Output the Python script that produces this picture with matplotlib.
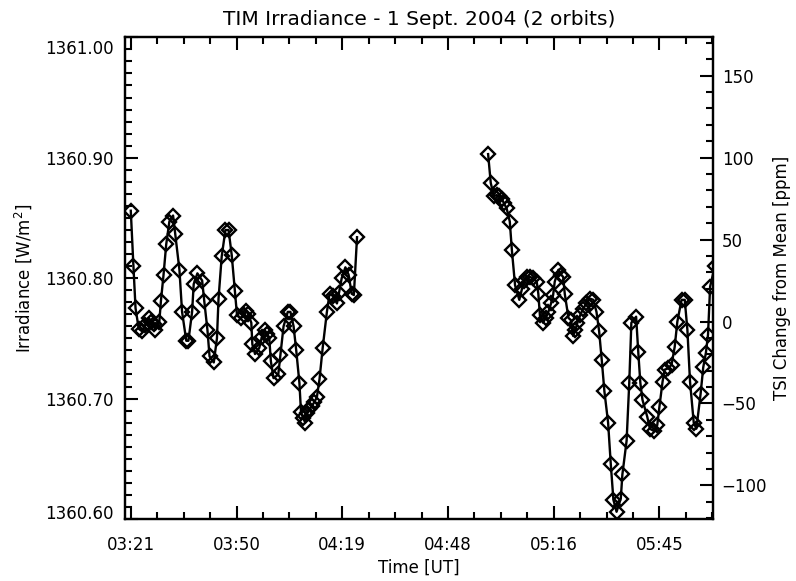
import numpy as np
import matplotlib
matplotlib.use("Agg")
import matplotlib.pyplot as plt
import matplotlib.transforms as mtransforms
from matplotlib.ticker import MultipleLocator, FuncFormatter, FormatStrFormatter

# time in fraction of day (UT), irradiance in W/m^2
t_orbit1 = [0.1400, 0.1405, 0.1409, 0.1415, 0.1421, 0.1427, 0.1434, 0.1439, 0.1443, 0.1446,
            0.1454, 0.1457, 0.1462, 0.1467, 0.1473, 0.1480, 0.1484, 0.1492, 0.1497, 0.1505,
            0.1509, 0.1516, 0.1519, 0.1526, 0.1535, 0.1539, 0.1545, 0.1549, 0.1557, 0.1563,
            0.1566, 0.1572, 0.1579, 0.1585, 0.1591, 0.1597, 0.1601, 0.1608, 0.1614, 0.1618,
            0.1622, 0.1628, 0.1630, 0.1635, 0.1643, 0.1648, 0.1653, 0.1658, 0.1662, 0.1665,
            0.1670, 0.1679, 0.1683, 0.1689, 0.1697, 0.1702, 0.1708, 0.1713, 0.1719, 0.1722,
            0.1726, 0.1730, 0.1734, 0.1738, 0.1743, 0.1747, 0.1752, 0.1757, 0.1763, 0.1771,
            0.1776, 0.1783, 0.1790, 0.1794, 0.1799, 0.1806, 0.1812, 0.1818, 0.1822, 0.1828]
irr_orbit1 = [1360.856, 1360.810, 1360.775, 1360.758, 1360.756, 1360.761, 1360.767, 1360.764, 1360.762, 1360.757,
              1360.764, 1360.781, 1360.803, 1360.828, 1360.847, 1360.852, 1360.837, 1360.807, 1360.772, 1360.748,
              1360.748, 1360.772, 1360.795, 1360.804, 1360.798, 1360.781, 1360.757, 1360.735, 1360.730, 1360.750,
              1360.783, 1360.818, 1360.840, 1360.840, 1360.819, 1360.789, 1360.769, 1360.767, 1360.769, 1360.773,
              1360.770, 1360.763, 1360.745, 1360.737, 1360.742, 1360.751, 1360.757, 1360.754, 1360.750, 1360.731,
              1360.717, 1360.720, 1360.736, 1360.760, 1360.772, 1360.772, 1360.760, 1360.740, 1360.713, 1360.689,
              1360.684, 1360.680, 1360.688, 1360.691, 1360.694, 1360.697, 1360.701, 1360.716, 1360.742, 1360.772,
              1360.787, 1360.785, 1360.779, 1360.788, 1360.800, 1360.809, 1360.803, 1360.787, 1360.786, 1360.834]

t_orbit2 = [0.2076, 0.2081, 0.2087, 0.2092, 0.2097, 0.2102, 0.2106, 0.2111, 0.2117, 0.2121,
            0.2127, 0.2135, 0.2140, 0.2144, 0.2150, 0.2155, 0.2161, 0.2168, 0.2171, 0.2174,
            0.2180, 0.2185, 0.2190, 0.2195, 0.2199, 0.2202, 0.2209, 0.2214, 0.2218, 0.2221,
            0.2228, 0.2233, 0.2237, 0.2241, 0.2245, 0.2250, 0.2255, 0.2262, 0.2269, 0.2275,
            0.2281, 0.2286, 0.2291, 0.2296, 0.2303, 0.2308, 0.2313, 0.2319, 0.2327, 0.2330,
            0.2338, 0.2343, 0.2347, 0.2356, 0.2360, 0.2364, 0.2368, 0.2377, 0.2382, 0.2390,
            0.2396, 0.2400, 0.2406, 0.2410, 0.2416, 0.2423, 0.2429, 0.2434, 0.2442, 0.2448,
            0.2453, 0.2458, 0.2465, 0.2470, 0.2478, 0.2483, 0.2488, 0.2492, 0.2496, 0.2505]
irr_orbit2 = [1360.903, 1360.879, 1360.868, 1360.869, 1360.868, 1360.866, 1360.862, 1360.858, 1360.847, 1360.823,
              1360.794, 1360.782, 1360.791, 1360.798, 1360.801, 1360.801, 1360.800, 1360.797, 1360.787, 1360.769,
              1360.763, 1360.767, 1360.772, 1360.779, 1360.786, 1360.797, 1360.807, 1360.803, 1360.801, 1360.787,
              1360.767, 1360.765, 1360.752, 1360.757, 1360.763, 1360.769, 1360.774, 1360.779, 1360.783, 1360.782,
              1360.772, 1360.756, 1360.732, 1360.706, 1360.680, 1360.646, 1360.616, 1360.606, 1360.617, 1360.637,
              1360.665, 1360.713, 1360.763, 1360.768, 1360.739, 1360.713, 1360.699, 1360.685, 1360.675, 1360.673,
              1360.678, 1360.693, 1360.714, 1360.724, 1360.725, 1360.728, 1360.743, 1360.764, 1360.782, 1360.782,
              1360.757, 1360.714, 1360.680, 1360.675, 1360.704, 1360.726, 1360.738, 1360.753, 1360.793, 1360.810]

tsi_mean = 1360.764

plt.rcParams['font.family'] = ['DejaVu Sans']
plt.rcParams['font.size'] = 12

fig = plt.figure(figsize=(7.96, 5.81), dpi=100)
ax = fig.add_axes([0.157, 0.1067, 0.7391, 0.8291])

for t, irr in [(t_orbit1, irr_orbit1), (t_orbit2, irr_orbit2)]:
    ax.plot(t, irr, color='black', lw=1.7, marker='D', ms=7.5, mfc='none',
            mec='black', mew=1.7)

ax.set_xlim(0.1389, 0.2502)
ax.set_ylim(1360.60, 1361.00)

def hhmm(x, pos):
    total = x * 1440.0 + 1e-6
    return "%02d:%02d" % (int(total // 60), int(total % 60))

ax.xaxis.set_major_locator(MultipleLocator(0.02))
ax.xaxis.set_minor_locator(MultipleLocator(0.005))
ax.xaxis.set_major_formatter(FuncFormatter(hhmm))
ax.yaxis.set_major_locator(MultipleLocator(0.1))
ax.yaxis.set_minor_locator(MultipleLocator(0.01))
ax.yaxis.set_major_formatter(FormatStrFormatter('%.2f'))
ax.tick_params(which='both', direction='in', top=True, right=False, width=1.5)
ax.tick_params(which='major', length=9.5, pad=8)
ax.tick_params(axis='x', which='major', pad=12)
ax.tick_params(which='minor', length=5)
for s in ax.spines.values():
    s.set_linewidth(1.6)

ax.set_xlabel('Time [UT]', labelpad=4)
ax.set_ylabel('Irradiance [W/m$^2$]', labelpad=8)
ax.set_title('TIM Irradiance - 1 Sept. 2004 (2 orbits)', fontsize=14.5, pad=9)

ax2 = ax.twinx()
lo, hi = ax.get_ylim()
ax2.set_ylim((lo / tsi_mean - 1) * 1e6, (hi / tsi_mean - 1) * 1e6)
ax2.yaxis.set_major_locator(MultipleLocator(50))
ax2.yaxis.set_minor_locator(MultipleLocator(10))
ax2.tick_params(which='both', direction='in', width=1.5)
ax2.tick_params(which='major', length=9.5, pad=6)
ax2.tick_params(which='minor', length=5)
ax2.set_ylabel('TSI Change from Mean [ppm]', labelpad=4)
for s in ax2.spines.values():
    s.set_linewidth(1.6)

# end labels of the left axis sit a little inside the frame
fig.canvas.draw()
yticks = ax.yaxis.get_major_ticks()
for tk in yticks:
    v = tk.get_loc()
    if abs(v - 1361.00) < 1e-6:
        tk.label1.set_transform(tk.label1.get_transform() +
                                mtransforms.ScaledTranslation(0, -7 / 72, fig.dpi_scale_trans))
    elif abs(v - 1360.60) < 1e-6:
        tk.label1.set_transform(tk.label1.get_transform() +
                                mtransforms.ScaledTranslation(0, 5 / 72, fig.dpi_scale_trans))

fig.savefig('out.png', dpi=100)
